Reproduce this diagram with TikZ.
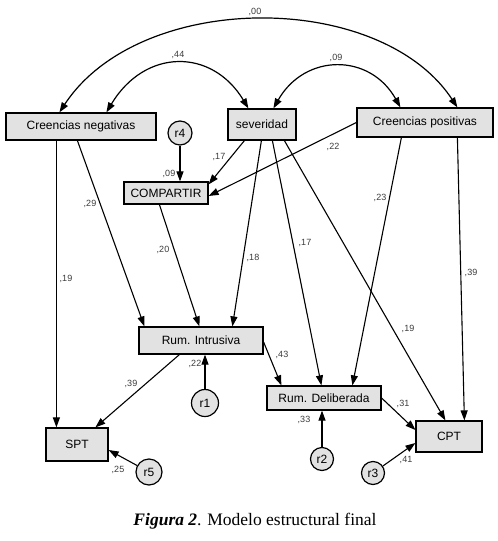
\documentclass[tikz,border=0pt]{standalone}
\usepackage{fontspec}
\setmainfont{Liberation Serif}
\setsansfont{Liberation Sans}
\usetikzlibrary{arrows.meta}
\definecolor{boxfill}{RGB}{226,226,226}
\definecolor{labgray}{RGB}{60,60,60}
\begin{document}
\begin{tikzpicture}[x=1pt,y=-1pt,
  vbox/.style={draw=black,line width=1.2pt,fill=boxfill,inner sep=0pt,
    font=\sffamily\fontsize{12}{13}\selectfont},
  err/.style={circle,draw=black,line width=1.2pt,fill=boxfill,inner sep=0pt,
    font=\sffamily\fontsize{12}{13}\selectfont},
  pth/.style={line width=1.1pt,-{Triangle[length=10pt,width=7pt]}},
  dbl/.style={line width=1.2pt,{Triangle[length=10pt,width=7pt]}-{Triangle[length=10pt,width=7pt]}},
  coef/.style={font=\sffamily\fontsize{9}{10}\selectfont,text=labgray,inner sep=0pt}]
\useasboundingbox (0,0) rectangle (498,541);
\fill[white] (0,0) rectangle (498,541);

% variables
\node[vbox,minimum width=150pt,minimum height=27pt] (neg) at (81,126.5) {Creencias negativas};
\node[vbox,minimum width=68pt,minimum height=31pt] (sev) at (262,124.5) {severidad};
\node[vbox,minimum width=136pt,minimum height=29pt] (pos) at (425,122.5) {Creencias positivas};
\node[vbox,minimum width=84pt,minimum height=22pt] (comp) at (166,193) {COMPARTIR};
\node[vbox,minimum width=124pt,minimum height=27pt] (ri) at (201,340.5) {Rum. Intrusiva};
\node[vbox,minimum width=114pt,minimum height=24pt] (rd) at (324,398) {Rum. Deliberada};
\node[vbox,minimum width=62pt,minimum height=33pt] (spt) at (77,444.5) {SPT};
\node[vbox,minimum width=66pt,minimum height=31pt] (cpt) at (449,436.5) {CPT};

% errors
\node[err,minimum size=24pt] (r4) at (180,133) {r4};
\node[err,minimum size=27pt] (r1) at (205,403) {r1};
\node[err,minimum size=26pt] (r5) at (149,472) {r5};
\node[err,minimum size=23pt] (r2) at (322,459) {r2};
\node[err,minimum size=23pt] (r3) at (373,473) {r3};

% covariances
\draw[dbl] ([xshift=54pt]neg.north west) .. controls (140,-10) and (380,-10) .. ([xshift=101pt]pos.north west);
\draw[dbl] ([xshift=101pt]neg.north west) .. controls (145,48) and (212,48) .. ([xshift=21pt]sev.north west);
\draw[dbl] ([xshift=46pt]sev.north west) .. controls (305,53) and (370,53) .. ([xshift=44pt]pos.north west);

% paths
\draw[pth] ([xshift=51pt]neg.south west) -- ([xshift=11pt]spt.north west);
\draw[pth] ([xshift=72pt]neg.south west) -- ([xshift=6pt]ri.north west);
\draw[pth] ([xshift=36pt]comp.south west) -- ([xshift=61pt]ri.north west);
\draw[pth] ([xshift=34pt]sev.south west) -- ([xshift=94pt]ri.north west);
\draw[pth] ([xshift=45pt]sev.south west) -- ([xshift=55pt]rd.north west);
\draw[pth] ([xshift=57pt]sev.south west) -- ([xshift=30pt]cpt.north west);
\draw[pth] ([xshift=17pt]sev.south west) -- ([yshift=-3pt]comp.north east);
\draw[pth] (pos.west) -- ([yshift=-3pt]comp.east);
\draw[pth] ([xshift=45pt]pos.south west) -- ([xshift=86pt]rd.north west);
\draw[pth] ([xshift=101pt]pos.south west) -- ([xshift=49pt]cpt.north west);
\draw[pth] ([yshift=-1.5pt]ri.east) -- ([xshift=15pt]rd.north west);
\draw[pth] ([xshift=41pt]ri.south west) -- ([xshift=50pt]spt.north west);
\draw[pth] (rd.east) -- ([yshift=6.5pt]cpt.west);
\draw[pth] (r4.south) -- (r4.south |- comp.north);
\draw[pth] (r1.north) -- (r1.north |- ri.south);
\draw[pth] (r2.north) -- (r2.north |- rd.south);
\draw[pth] (r5) -- ([yshift=-5.5pt]spt.east);
\draw[pth] (r3) -- ([yshift=-6.5pt]cpt.west);

% coefficients
\node[coef] (c00) at (255,12) {,00};
\node[coef] (c44) at (178,55) {,44};
\node[coef] (c09a) at (336,58) {,09};
\node[coef] (c17a) at (219,157) {,17};
\node[coef] (c09b) at (169,174) {,09};
\node[coef] (c22a) at (333,147) {,22};
\node[coef] (c29) at (90,204) {,29};
\node[coef] (c23) at (380,198) {,23};
\node[coef] (c20) at (163,250) {,20};
\node[coef] (c19a) at (66,279) {,19};
\node[coef] (c18) at (253,258) {,18};
\node[coef] (c17b) at (305,243) {,17};
\node[coef] (c39a) at (471,273) {,39};
\node[coef] (c19b) at (408,329) {,19};
\node[coef] (c43) at (282,355) {,43};
\node[coef] (c39b) at (131,384) {,39};
\node[coef] (c22b) at (195,364) {,22};
\node[coef] (c33) at (304,420) {,33};
\node[coef] (c31) at (403,404) {,31};
\node[coef] (c41) at (406,460) {,41};
\node[coef] (c25) at (118,470) {,25};

% caption
\node[font=\fontsize{17.5}{20}\selectfont,inner sep=0pt] (cap) at (255,521) {\textbf{\textit{Figura 2}}. Modelo estructural final};
\end{tikzpicture}
\end{document}
